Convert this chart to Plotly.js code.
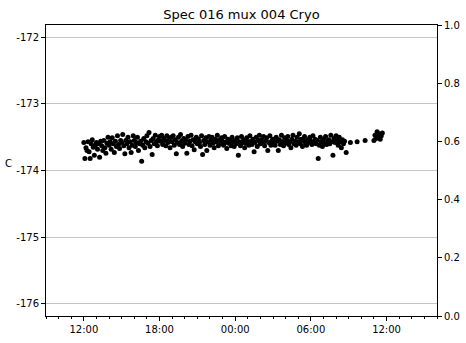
<!DOCTYPE html>
<html>
<head>
<meta charset="utf-8">
<script src="https://cdn.plot.ly/plotly-3.0.1.min.js"></script>
<style>html,body{margin:0;padding:0;background:#fff;}#chart{width:466px;height:343px;}</style>
</head>
<body>
<div id="chart"></div>
<script>
// Data (minutes after 12:00 on day 1, temperature in C)
const startDay = '2021-03-01';
const minutes = [
0,5,10,15,20,25,30,35,40,45,50,55,
60,65,70,75,80,85,90,95,100,105,110,115,
120,125,130,135,140,145,150,155,160,165,170,175,
180,185,190,195,200,205,210,215,220,225,230,235,
240,245,250,255,260,265,270,275,280,285,290,295,
300,305,310,315,320,325,330,335,340,345,350,355,
360,365,370,375,380,385,390,395,400,405,410,415,
420,425,430,435,440,445,450,455,460,465,470,475,
480,485,490,495,500,505,510,515,520,525,530,535,
540,545,550,555,560,565,570,575,580,585,590,595,
600,605,610,615,620,625,630,635,640,645,650,655,
660,665,670,675,680,685,690,695,700,705,710,715,
720,725,730,735,740,745,750,755,760,765,770,775,
780,785,790,795,800,805,810,815,820,825,830,835,
840,845,850,855,860,865,870,875,880,885,890,895,
900,905,910,915,920,925,930,935,940,945,950,955,
960,965,970,975,980,985,990,995,1000,1005,1010,1015,
1020,1025,1030,1035,1040,1045,1050,1055,1060,1065,1070,1075,
1080,1085,1090,1095,1100,1105,1110,1115,1120,1125,1130,1135,
1140,1145,1150,1155,1160,1165,1170,1175,1180,1185,1190,1195,
1200,1205,1210,1215,1220,1225,1230,1235,1240,1248,
1268,1300,1338,
1380,1385,1390,1395,1400,1405,1410,1415,1420
];
const temps = [
-173.58,-173.82,-173.66,-173.70,-173.57,-173.72,-173.82,-173.60,-173.54,-173.65,-173.77,-173.62,
-173.58,-173.68,-173.60,-173.80,-173.56,-173.63,-173.70,-173.55,-173.66,-173.74,-173.59,-173.50,
-173.62,-173.57,-173.68,-173.51,-173.60,-173.73,-173.56,-173.64,-173.48,-173.61,-173.67,-173.55,
-173.58,-173.46,-173.63,-173.75,-173.55,-173.60,-173.50,-173.66,-173.57,-173.73,-173.62,-173.48,
-173.55,-173.64,-173.58,-173.50,-173.70,-173.60,-173.56,-173.86,-173.62,-173.52,-173.66,-173.57,
-173.48,-173.59,-173.43,-173.64,-173.55,-173.76,-173.52,-173.60,-173.47,-173.57,-173.63,-173.54,
-173.49,-173.56,-173.47,-173.61,-173.52,-173.55,-173.63,-173.48,-173.58,-173.53,-173.66,-173.50,
-173.57,-173.48,-173.62,-173.54,-173.75,-173.58,-173.50,-173.61,-173.46,-173.56,-173.64,-173.52,
-173.59,-173.55,-173.74,-173.49,-173.61,-173.56,-173.47,-173.63,-173.54,-173.69,-173.57,-173.50,
-173.60,-173.53,-173.58,-173.64,-173.48,-173.76,-173.55,-173.61,-173.51,-173.70,-173.57,-173.49,
-173.62,-173.55,-173.50,-173.59,-173.66,-173.53,-173.57,-173.47,-173.63,-173.54,-173.60,-173.51,
-173.56,-173.62,-173.49,-173.58,-173.67,-173.53,-173.59,-173.55,-173.63,-173.50,-173.57,-173.64,
-173.55,-173.60,-173.51,-173.77,-173.57,-173.63,-173.49,-173.58,-173.54,-173.66,-173.59,-173.51,
-173.57,-173.62,-173.48,-173.56,-173.61,-173.53,-173.72,-173.58,-173.50,-173.64,-173.55,-173.47,
-173.60,-173.54,-173.59,-173.49,-173.63,-173.56,-173.51,-173.70,-173.58,-173.48,-173.62,-173.55,
-173.53,-173.58,-173.62,-173.50,-173.56,-173.70,-173.54,-173.61,-173.47,-173.57,-173.63,-173.51,
-173.59,-173.55,-173.49,-173.61,-173.57,-173.66,-173.53,-173.47,-173.60,-173.56,-173.62,-173.50,
-173.57,-173.45,-173.60,-173.53,-173.64,-173.55,-173.49,-173.59,-173.62,-173.54,-173.58,-173.50,
-173.56,-173.61,-173.48,-173.58,-173.53,-173.60,-173.55,-173.82,-173.62,-173.50,-173.57,-173.64,
-173.53,-173.59,-173.49,-173.61,-173.56,-173.54,-173.60,-173.47,-173.57,-173.77,-173.52,-173.58,
-173.48,-173.55,-173.62,-173.50,-173.57,-173.66,-173.54,-173.60,-173.56,-173.73,
-173.58,-173.57,-173.55,
-173.55,-173.47,-173.52,-173.42,-173.50,-173.45,-173.53,-173.48,-173.44
];
const yTicks = [-176, -175, -174, -173, -172];
const y2Ticks = [0.0, 0.2, 0.4, 0.6, 0.8, 1.0];
const titleText = 'Spec 016 mux 004 Cryo';
const yLabel = 'C';

function toDate(m) {
  const d = new Date(Date.UTC(2021, 2, 1, 12, 0) + m * 60000);
  const p = n => String(n).padStart(2, '0');
  return d.getUTCFullYear() + '-' + p(d.getUTCMonth() + 1) + '-' + p(d.getUTCDate()) + ' ' + p(d.getUTCHours()) + ':' + p(d.getUTCMinutes());
}
const xs = minutes.map(toDate);

const font = {family: 'DejaVu Sans, sans-serif', size: 10, color: '#000'};

const traces = [
  {x: xs, y: temps, type: 'scatter', mode: 'markers', marker: {color: '#000', size: 5}, hoverinfo: 'skip'},
  {x: [], y: [], type: 'scatter', mode: 'markers', yaxis: 'y2', hoverinfo: 'skip'}
];

const layout = {
  width: 466, height: 343,
  margin: {l: 46, r: 29, t: 25, b: 27},
  paper_bgcolor: '#fff', plot_bgcolor: '#fff',
  showlegend: false,
  font: font,
  title: {text: titleText, font: {family: 'DejaVu Sans, sans-serif', size: 13, color: '#000'}, x: 0.518, xanchor: 'center', xref: 'container', y: 1 - 14/343, yref: 'container', yanchor: 'middle'},
  xaxis: {
    type: 'date',
    range: ['2021-03-01 09:00', '2021-03-02 16:00'],
    tickformat: '%H:%M', dtick: 6 * 3600000, tick0: '2021-03-01 00:00',
    ticks: 'outside', ticklen: 4, tickcolor: '#000', tickwidth: 1,
    minor: {dtick: 3600000, tick0: '2021-03-01 00:00', ticks: 'outside', ticklen: 2, tickcolor: '#000', showgrid: false},
    showline: true, linecolor: '#000', linewidth: 1, mirror: true,
    showgrid: false, zeroline: false, tickfont: font
  },
  yaxis: {
    range: [-176.18, -171.82],
    tickvals: yTicks, ticktext: yTicks.map(String),
    ticks: 'outside', ticklen: 4, tickcolor: '#000',
    showline: true, linecolor: '#000', linewidth: 1,
    showgrid: true, gridcolor: '#c4c4c4', gridwidth: 1,
    zeroline: false, tickfont: font
  },
  yaxis2: {
    overlaying: 'y', side: 'right', range: [0, 1],
    tickvals: y2Ticks, ticktext: y2Ticks.map(v => v.toFixed(1)),
    ticks: 'outside', ticklen: 4, tickcolor: '#000',
    showline: true, linecolor: '#000', linewidth: 1,
    showgrid: false, zeroline: false, tickfont: font
  },
  annotations: [
    {text: yLabel, xref: 'paper', yref: 'paper', x: -0.097, y: 0.525, xanchor: 'center', yanchor: 'middle', showarrow: false, font: {family: 'DejaVu Sans, sans-serif', size: 10, color: '#000'}}
  ]
};

Plotly.newPlot('chart', traces, layout, {staticPlot: true, displayModeBar: false});
</script>
</body>
</html>
